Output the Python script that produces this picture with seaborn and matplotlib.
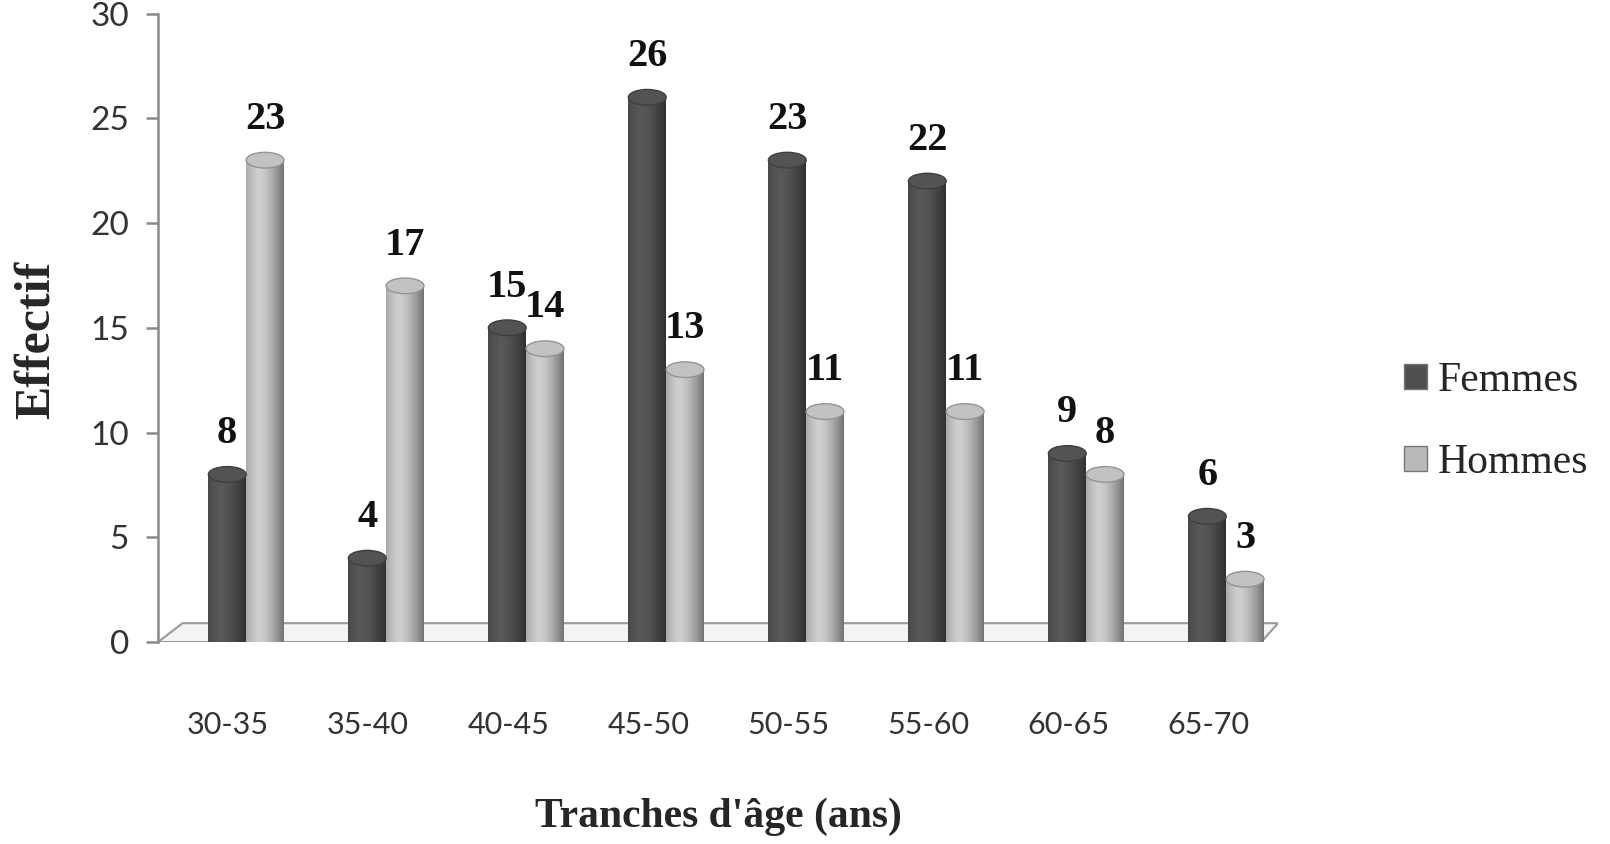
import numpy as np
import pandas as pd
import matplotlib
matplotlib.use("Agg")
import matplotlib.pyplot as plt
import matplotlib.transforms as mtransforms
from matplotlib.patches import Patch, Polygon, Ellipse
import seaborn as sns

categories = ["30-35", "35-40", "40-45", "45-50", "50-55", "55-60", "60-65", "65-70"]
femmes = [8, 4, 15, 26, 23, 22, 9, 6]
hommes = [23, 17, 14, 13, 11, 11, 8, 3]
series_names = ["Femmes", "Hommes"]
colors = {"Femmes": "#4f4f4f", "Hommes": "#b9b9b9"}

df = pd.DataFrame({
    "Tranche": categories * 2,
    "Effectif": femmes + hommes,
    "Sexe": ["Femmes"] * len(categories) + ["Hommes"] * len(categories),
})

sns.set_style("white")
plt.rcParams["font.family"] = ["Lato", "DejaVu Sans"]

fig = plt.figure(figsize=(16.1, 8.44), dpi=100)
ax = fig.add_axes([0.0981, 0.2393, 0.6957, 0.7447])

sns.barplot(data=df, x="Tranche", y="Effectif", hue="Sexe", order=categories,
            hue_order=series_names, palette=colors, width=0.54, ax=ax,
            legend=False, edgecolor="none", saturation=1)

ax.set_xlim(-0.63, 7.37)
ax.set_ylim(0, 30)
ax.set_yticks(range(0, 31, 5))

# floor decoration
floor = Polygon([(0.0, 0.0), (0.985, 0.0), (1.0, 0.03), (0.022, 0.03)], closed=True,
                transform=ax.transAxes, facecolor="#f4f4f4", edgecolor="#9a9a9a",
                linewidth=1.5, zorder=0.5)
ax.add_patch(floor)

# cylinder-like shading
grad = np.linspace(0, 1, 64)
shade = 1 - 0.45 * (np.abs(grad - 0.35) / 0.65) ** 1.5
for i, cont in enumerate(ax.containers):
    base = np.array(matplotlib.colors.to_rgb(colors[series_names[i]]))
    img = np.clip(base[None, None, :] * shade[None, :, None] * 1.12, 0, 1)
    for bar in cont:
        x0, w, h = bar.get_x(), bar.get_width(), bar.get_height()
        bar.set_facecolor("none")
        im = ax.imshow(img, extent=(x0, x0 + w, 0, h), aspect="auto", zorder=2,
                       interpolation="bicubic")
        im.set_clip_path(bar)
        cap = Ellipse((x0 + w / 2, h), w, 0.75, facecolor=np.clip(base * 1.05, 0, 1),
                      edgecolor=np.clip(base * 0.8, 0, 1), linewidth=1.0, zorder=3)
        ax.add_patch(cap)
    ax.bar_label(cont, labels=[str(int(v)) for v in cont.datavalues], padding=16,
                 fontsize=29, fontweight="bold", family="Liberation Serif", color="#111111")

sns.despine(ax=ax, top=True, right=True, bottom=True)
ax.spines["left"].set_color("#8a8a8a")
ax.spines["left"].set_linewidth(1.8)
ax.tick_params(axis="y", length=9, width=1.8, color="#8a8a8a", direction="out",
               labelsize=24, labelcolor="#333333", pad=12, left=True)
ax.tick_params(axis="x", length=0, labelsize=22, labelcolor="#333333", pad=50)
offset = mtransforms.ScaledTranslation(-18 / 100, 0, fig.dpi_scale_trans)
for lab in ax.get_xticklabels():
    lab.set_transform(lab.get_transform() + offset)

ax.set_xlabel("Tranches d'âge (ans)", fontsize=30, fontweight="bold",
              family="Liberation Serif", labelpad=42)
ax.set_ylabel("Effectif", fontsize=36, fontweight="bold",
              family="Liberation Serif", va="center")
ax.yaxis.set_label_coords(-0.108, 0.48)
ax.set_facecolor("white")

handles = [Patch(facecolor=colors[n], edgecolor="#777777") for n in series_names]
fig.legend(handles, series_names, loc="center left", bbox_to_anchor=(0.849, 0.50),
           frameon=False, prop={"family": "Liberation Serif", "size": 30},
           handlelength=0.55, handleheight=0.55, handletextpad=0.25, labelspacing=1.05)

fig.savefig("out.png", dpi=100, facecolor="white")
